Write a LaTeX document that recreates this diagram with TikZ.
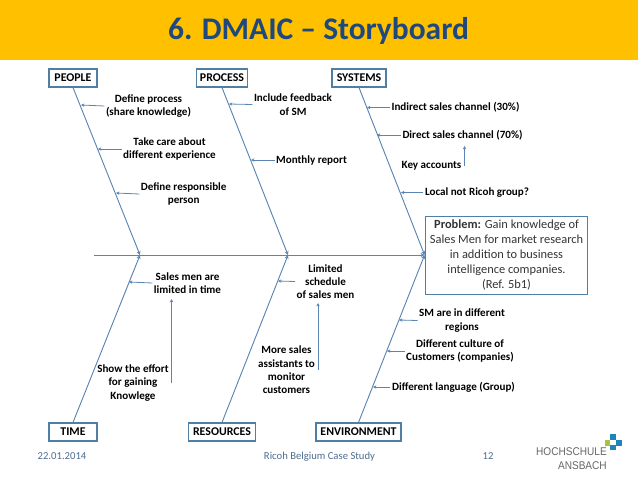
\documentclass[tikz,border=0pt]{standalone}
\usepackage{fontspec}
\setmainfont{Carlito}
\newfontfamily\logofont{Liberation Sans}
\usetikzlibrary{arrows.meta}
\definecolor{banner}{HTML}{FFC000}
\definecolor{titleblue}{HTML}{1F497D}
\definecolor{boneblue}{HTML}{5B84B1}
\definecolor{boxblue}{HTML}{4F7FA5}
\definecolor{footblue}{HTML}{4F6D8F}
\definecolor{logogray}{HTML}{666666}
\definecolor{logoblue}{HTML}{1F84B8}
\definecolor{logogreen}{HTML}{A5C63B}
\tikzset{
  catbox/.style={draw=boxblue, line width=0.85pt, font=\fontsize{8.9}{10}\selectfont\bfseries, minimum height=13.5pt, inner sep=0pt},
  cause/.style={font=\fontsize{8.3}{10}\selectfont\bfseries, align=center, inner sep=1pt},
  bone/.style={draw=boneblue, line width=0.7pt, -{Stealth[length=3pt,width=3pt]}},
  sub/.style={draw=boneblue, line width=0.6pt, -{Stealth[length=2.5pt,width=2.5pt]}},
  foot/.style={text=footblue, font=\fontsize{8}{9}\selectfont},
}
\begin{document}
\begin{tikzpicture}[x=0.75pt, y=-0.75pt]
  \useasboundingbox (0,0) rectangle (638,479);
  \fill[banner] (0,0) rectangle (638,60);
  \node[text=titleblue, font=\fontsize{23.6}{26}\selectfont\bfseries] (title) at (318.5,31) {6. DMAIC -- Storyboard};

  % categories
  \node[catbox, minimum width=36pt] (people) at (73,78) {PEOPLE};
  \node[catbox, minimum width=38.25pt] (process) at (222,78) {PROCESS};
  \node[catbox, minimum width=40.5pt] (systems) at (359,78) {SYSTEMS};
  \node[catbox, minimum width=36pt] (time) at (73,432) {TIME};
  \node[catbox, minimum width=50.25pt] (resources) at (222,432) {RESOURCES};
  \node[catbox, minimum width=63.75pt] (environment) at (358.5,432) {ENVIRONMENT};

  % problem
  \node[draw=boxblue, line width=0.85pt, align=center, minimum width=122pt, minimum height=58pt, inner sep=0pt,
        font=\fontsize{9.3}{11.25}\selectfont, text=black!80] (problem) at (506.5,255.5)
        {\textbf{Problem:} Gain knowledge of\\Sales Men for market research\\in addition to business\\intelligence companies.\\(Ref. 5b1)};

  % spine
  \coordinate (tail) at (94,255);
  \coordinate (joinA) at (140,255);
  \coordinate (joinB) at (288,255);
  \draw[bone] (tail) -- (problem.west |- tail);
  \draw[bone] (people.south) -- (joinA);
  \draw[bone] (time.north) -- (joinA);
  \draw[bone] (process.south) -- (joinB);
  \draw[bone] (resources.north) -- (joinB);
  \draw[bone] (systems.south) -- (problem.west |- tail);
  \draw[bone] (environment.north) -- (problem.west |- tail);

  % causes, upper half
  \node[cause] (defproc) at (148.5,106) {Define process\\(share knowledge)};
  \node[cause] (takecare) at (169.5,149) {Take care about\\different experience};
  \node[cause] (defresp) at (183.7,194) {Define responsible\\person};
  \node[cause] (feedback) at (293,104.5) {Include feedback\\of SM};
  \node[cause] (monthly) at (311.5,160) {Monthly report};
  \node[cause] (indirect) at (455.5,107.5) {Indirect sales channel (30\%)};
  \node[cause] (direct) at (462.5,135) {Direct sales channel (70\%)};
  \node[cause] (keyacc) at (431.5,166) {Key accounts};
  \node[cause] (local) at (477,192.5) {Local not Ricoh group?};

  % causes, lower half
  \node[cause] (salesmen) at (187.5,283) {Sales men are\\limited in time};
  \node[cause] (effort) at (133,383) {Show the effort\\for gaining\\Knowlege};
  \node[cause] (limited) at (325.5,281.5) {Limited\\schedule\\of sales men};
  \node[cause] (assist) at (286.5,370) {More sales\\assistants to\\monitor\\customers};
  \node[cause] (regions) at (462,320.5) {SM are in different\\regions};
  \node[cause] (culture) at (460,351) {Different culture of\\Customers (companies)};
  \node[cause] (language) at (453.5,387) {Different language (Group)};

  % tips on the bones
  \coordinate (tipdefproc) at (81,105);
  \coordinate (tiptakecare) at (98,149);
  \coordinate (tipdefresp) at (116,193);
  \coordinate (tipfeedback) at (229,104);
  \coordinate (tipmonthly) at (251,160);
  \coordinate (tipindirect) at (367,107.5);
  \coordinate (tipdirect) at (377,135);
  \coordinate (tiplocal) at (401,192.5);
  \coordinate (tipsalesmen) at (129,282);
  \coordinate (tiplimited) at (278,281);
  \coordinate (tipregions) at (399,320);
  \coordinate (tipculture) at (387,351);
  \coordinate (tiplanguage) at (373,387);
  \coordinate (tipkeyacc) at (464.5,146);
  \coordinate (tipeffort) at (171.5,299);
  \coordinate (tipassist) at (318,303);

  \draw[sub] (defproc.west) -- (tipdefproc);
  \draw[sub] (takecare.west) -- (tiptakecare);
  \draw[sub] (defresp.west) -- (tipdefresp);
  \draw[sub] (feedback.west) -- (tipfeedback);
  \draw[sub] (monthly.west) -- (tipmonthly);
  \draw[sub] (indirect.west) -- (tipindirect);
  \draw[sub] (direct.west) -- (tipdirect);
  \draw[sub] (local.west) -- (tiplocal);
  \draw[sub] (salesmen.west) -- (tipsalesmen);
  \draw[sub] (limited.west) -- (tiplimited);
  \draw[sub] (regions.west) -- (tipregions);
  \draw[sub] (culture.west) -- (tipculture);
  \draw[sub] (language.west) -- (tiplanguage);
  \draw[sub] (tipkeyacc |- keyacc.east) -- (tipkeyacc);
  \draw[sub] (tipeffort |- effort.east) -- (tipeffort);
  \draw[sub] (tipassist |- assist.east) -- (tipassist);

  % footer
  \node[foot] (date) at (62,456.5) {22.01.2014};
  \node[foot] (study) at (319.5,456.5) {Ricoh Belgium Case Study};
  \node[foot] (page) at (488,456.5) {12};
  \node[text=logogray, font=\fontsize{8.4}{10.5}\selectfont\logofont, align=right, xscale=0.9, inner sep=0pt, anchor=east] (logo) at (607,458.5) {HOCHSCHULE\\ANSBACH};
  \fill[logoblue] (609.5,434) rectangle (616,440);
  \fill[logoblue] (615.5,439.5) rectangle (622,445.5);
  \fill[logogreen] (604.5,439.5) rectangle (610,445.5);
  \fill[logoblue] (609.5,444.5) rectangle (616,450);
\end{tikzpicture}
\end{document}
